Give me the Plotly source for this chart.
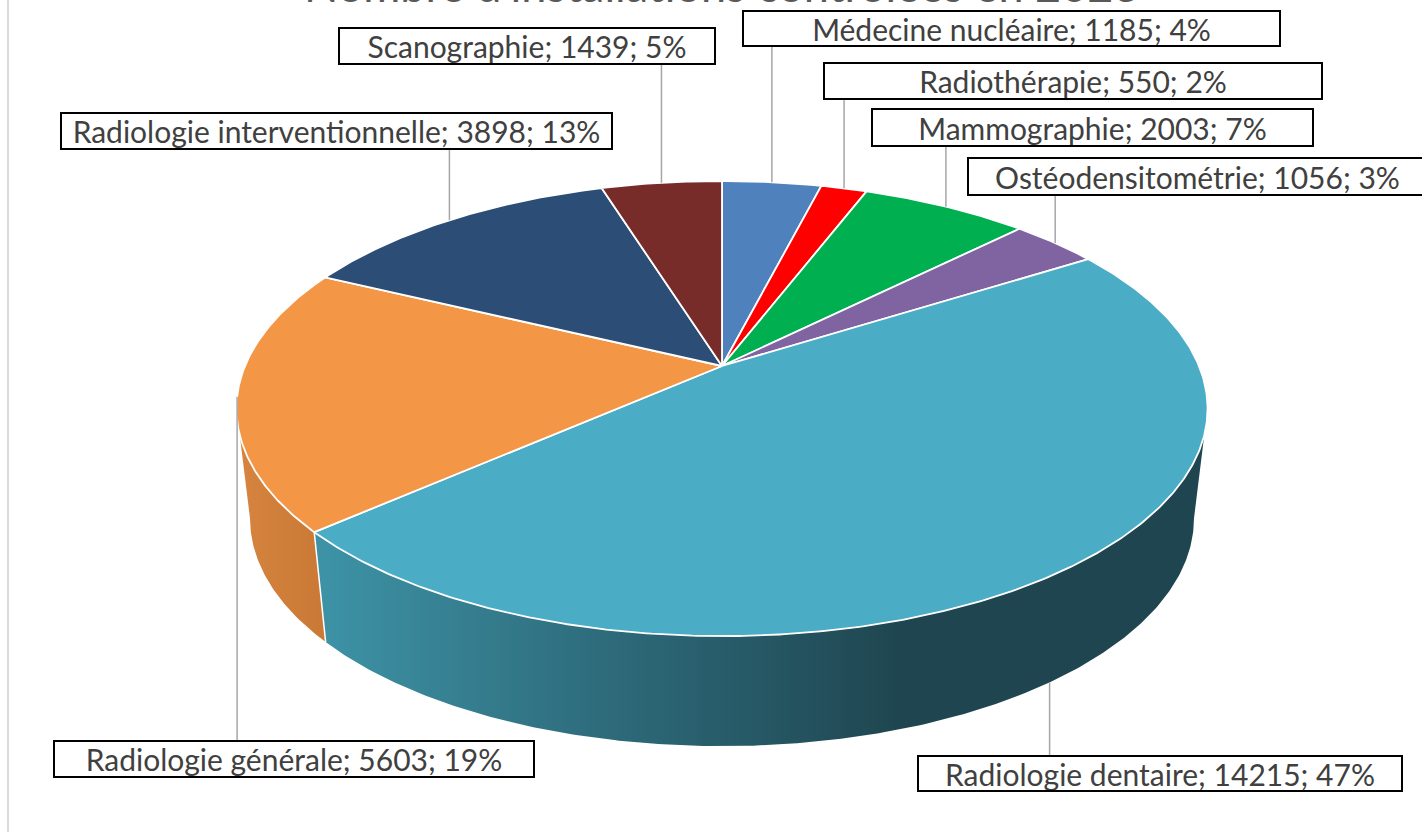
import math

import plotly.graph_objects as go

# --- data -----------------------------------------------------------------
title = "Nombre d'installations contrôlées en 2023"
categories = [
    "Médecine nucléaire",
    "Radiothérapie",
    "Mammographie",
    "Ostéodensitométrie",
    "Radiologie dentaire",
    "Radiologie générale",
    "Radiologie interventionnelle",
    "Scanographie",
]
counts = [1185, 550, 2003, 1056, 14215, 5603, 3898, 1439]
percents = [4, 2, 7, 3, 47, 19, 13, 5]

# --- style ----------------------------------------------------------------
top_colors = ["#4F81BD", "#FF0000", "#00B050", "#8064A2",
              "#4BACC6", "#F39646", "#2C4D75", "#772C2A"]
side_colors = [
    [[0, "#3F6A9E"], [1, "#2F5280"]],
    [[0, "#D00000"], [1, "#A00000"]],
    [[0, "#00913F"], [1, "#006E30"]],
    [[0, "#6A5287"], [1, "#513E68"]],
    [[0, "#3D92A5"], [0.5, "#2D6A7A"], [1, "#1F4650"]],
    [[0, "#D6843F"], [1, "#C97935"]],
    [[0, "#243F62"], [1, "#1B3049"]],
    [[0, "#632422"], [1, "#4C1B1A"]],
]
side_ranges = [None, None, None, None, (325, 900), (237, 330), None, None]

# label boxes (x0, x1, y0, y1) in pixels and where the leader line meets the pie
label_boxes = [
    (742, 1281, 10, 47),
    (823, 1323, 62, 100),
    (871, 1314, 108, 147),
    (967, 1428, 157, 196),
    (917, 1403, 755, 792),
    (53, 535, 740, 778),
    (60, 613, 112, 150),
    (338, 716, 27, 65),
]
leader_from = ["top", "top", "top", "top", "bottom", "top", "top", "top"]

W, H = 1422, 832
CX, CY = 722, 366          # centre of the pie top
RX, RY = 477, 219.6        # radii of the pie top
PERSP = 0.187              # perspective factor
DEPTH = 110                # thickness of the pie
SHRINK = 0.972             # bottom rim is a little narrower

PHI_R = math.degrees(math.acos(-PERSP))
PHI_L = 360 - PHI_R


def proj(phi, lower=False):
    t = math.radians(phi)
    w = 1 + PERSP * math.cos(t)
    x = RX * math.sin(t) / w
    y = -RY * math.cos(t) / w
    if lower:
        x *= SHRINK
        y += DEPTH
    return CX + x, CY + y


def arc(a, b, lower=False):
    n = max(2, int(abs(b - a) / 0.5) + 1)
    pts = [proj(a + (b - a) * k / (n - 1), lower) for k in range(n)]
    return [p[0] for p in pts], [p[1] for p in pts]


total = sum(counts)
starts, ends = [], []
acc = 0
for v in counts:
    starts.append(acc / total * 360)
    acc += v
    ends.append(acc / total * 360)

fig = go.Figure()

# side walls (front part only)
for i in range(len(counts)):
    a, b = max(starts[i], PHI_R), min(ends[i], PHI_L)
    if a >= b:
        continue
    tx, ty = arc(a, b)
    bx, by = arc(b, a, lower=True)
    x0, x1 = side_ranges[i]
    fig.add_trace(go.Scatter(
        x=tx + bx + [tx[0]], y=ty + by + [ty[0]],
        mode="lines", fill="toself", line=dict(width=0),
        fillgradient=dict(type="horizontal", colorscale=side_colors[i],
                          start=x0, stop=x1),
        hoverinfo="skip", showlegend=False,
    ))

# white edges between walls
for i in range(len(counts)):
    e = ends[i]
    if PHI_R < e < PHI_L:
        (ux, uy), (lx, ly) = proj(e), proj(e, lower=True)
        fig.add_trace(go.Scatter(
            x=[ux, lx], y=[uy, ly], mode="lines",
            line=dict(color="white", width=1.5),
            hoverinfo="skip", showlegend=False,
        ))

# top faces
for i in range(len(counts)):
    ax, ay = arc(starts[i], ends[i])
    fig.add_trace(go.Scatter(
        x=[CX] + ax + [CX], y=[CY] + ay + [CY],
        mode="lines", fill="toself", fillcolor=top_colors[i],
        line=dict(color="white", width=1.8),
        name=categories[i], hoverinfo="skip", showlegend=False,
    ))

# leader lines
lx, ly = [], []
for i in range(len(counts)):
    mid = (starts[i] + ends[i]) / 2
    px, py = proj(mid, lower=(leader_from[i] == "bottom"))
    x0, x1, y0, y1 = label_boxes[i]
    lx += [px, px, None]
    ly += [py, y0 if py < y0 else y1, None]
fig.add_trace(go.Scatter(
    x=lx, y=ly, mode="lines", line=dict(color="#A6A6A6", width=1.5),
    hoverinfo="skip", showlegend=False,
))

# labels
for i in range(len(counts)):
    x0, x1, y0, y1 = label_boxes[i]
    fig.add_annotation(
        x=(x0 + x1) / 2, y=(y0 + y1) / 2, xref="x", yref="y",
        text=f"{categories[i]}; {counts[i]}; {percents[i]}%",
        showarrow=False, xanchor="center", yanchor="middle",
        width=x1 - x0 - 4, height=y1 - y0 - 4, borderpad=0,
        bgcolor="white", bordercolor="#000000", borderwidth=2,
        font=dict(family="Lato", size=30, color="#404040"),
    )

# chart title, cut off by the top edge as in the original screenshot
fig.add_annotation(
    x=722, y=14, xref="x", yref="y", text=title, showarrow=False,
    xanchor="center", yanchor="bottom",
    font=dict(family="Lato", size=45, color="#595959"),
)

fig.add_shape(type="line", x0=8, x1=8, y0=0, y1=H, xref="x", yref="y",
              line=dict(color="#D9D9D9", width=2))

fig.update_layout(
    width=W, height=H,
    margin=dict(l=0, r=0, t=0, b=0),
    paper_bgcolor="white", plot_bgcolor="white",
    xaxis=dict(range=[0, W], visible=False, fixedrange=True),
    yaxis=dict(range=[H, 0], visible=False, fixedrange=True),
)

fig.write_html("out.html", config={"displayModeBar": False},
               post_script="document.body.style.margin='0';")
